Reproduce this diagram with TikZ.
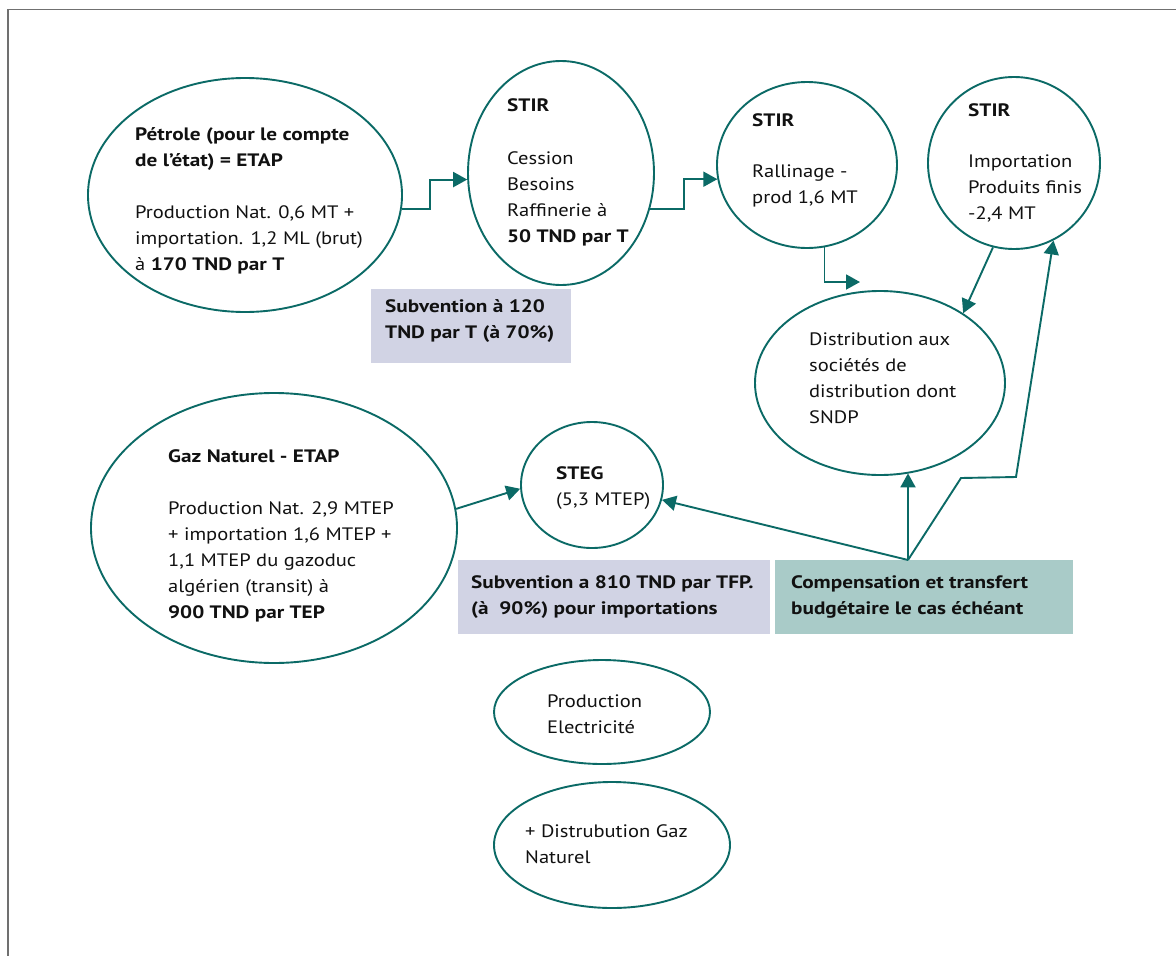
\documentclass[tikz,border=0pt]{standalone}
\usepackage{fontspec}
\setmainfont{PT Sans}[FakeStretch=1.14, BoldFeatures={FakeStretch=1.18}]
\usetikzlibrary{shapes.geometric,arrows.meta}
\definecolor{tealc}{HTML}{0B6A66}
\definecolor{lavc}{HTML}{D1D3E4}
\definecolor{cmpc}{HTML}{A9CBC8}
\definecolor{framec}{HTML}{707070}
\definecolor{txtc}{HTML}{111111}
\tikzset{
  ell/.style={ellipse, draw=tealc, line width=1.9pt, inner sep=0pt, fill=white},
  txt/.style={anchor=base west, align=left, inner sep=0pt, text=txtc, font=\fontsize{18}{26}\selectfont},
  boxa/.style={rectangle, fill=lavc, inner sep=0pt},
  boxc/.style={rectangle, fill=cmpc, inner sep=0pt},
  conn/.style={draw=tealc, line width=1.9pt, -{Triangle[length=14pt,width=15pt]}},
}
\begin{document}
\begin{tikzpicture}[x=1pt,y=-1pt]
\useasboundingbox (0,0) rectangle (1176,956);
\fill[white] (0,0) rectangle (1176,956);
\draw[framec, line width=1.6pt] (8,956) -- (8,9.5) -- (1176,9.5);

% ellipses
\node[ell, minimum width=314pt, minimum height=234pt] (pet) at (245,195) {};
\node[ell, minimum width=186pt, minimum height=224pt] (stir1) at (561,173) {};
\node[ell, minimum width=180pt, minimum height=166pt] (stir2) at (807,165) {};
\node[ell, minimum width=172pt, minimum height=172pt] (stir3) at (1014,163) {};
\node[ell, minimum width=250pt, minimum height=184pt] (dist) at (880,383) {};
\node[ell, minimum width=366pt, minimum height=270pt] (gaz) at (274,528) {};
\node[ell, minimum width=142pt, minimum height=126pt] (steg) at (592,485) {};
\node[ell, minimum width=216pt, minimum height=104pt] (prod) at (602,712) {};
\node[ell, minimum width=236pt, minimum height=126pt] (dgaz) at (612,845) {};

% boxes
\node[boxa, minimum width=200pt, minimum height=74pt] (suba) at (471,326) {};
\node[boxa, minimum width=312pt, minimum height=74pt] (subb) at (614,597) {};
\node[boxc, minimum width=298pt, minimum height=74pt] (cmp) at (924,597) {};

% texts (anchor = baseline of the last line)
\node[txt] (pett) at (135,270) {\textbf{Pétrole (pour le compte}\\\textbf{de l’état) = ETAP}\\[26pt]Production Nat. 0,6 MT +\\importation. 1,2 ML (brut)\\à \textbf{170 TND par T}};
\node[txt] (stir1t) at (507,242) {\textbf{STIR}\\[27pt]Cession\\Besoins\\Raffinerie à\\\textbf{50 TND par T}};
\node[txt] (stir2t) at (752,203) {\textbf{STIR}\\[25pt]Rallinage -\\prod 1,6 MT};
\node[txt] (stir3t) at (968,219) {\textbf{STIR}\\[25pt]Importation\\Produits finis\\-2,4 MT};
\node[txt] (distt) at (809,423) {Distribution aux\\sociétés de\\distribution dont\\SNDP};
\node[txt] (gazt) at (168,618) {\textbf{Gaz Naturel - ETAP}\\[26pt]Production Nat. 2,9 MTEP\\+ importation 1,6 MTEP +\\1,1 MTEP du gazoduc\\algérien (transit) à\\\textbf{900 TND par TEP}};
\node[txt] (stegt) at (556,505) {\textbf{STEG}\\(5,3 MTEP)};
\node[txt] (prodt) at (547,733) {Production\\Electricité};
\node[txt] (dgazt) at (525,863) {+ Distrubution Gaz\\Naturel};
\node[txt] (subat) at (385,338) {\textbf{Subvention à 120}\\\textbf{TND par T (à 70\%)}};
\node[txt] (subbt) at (471,614) {\textbf{Subvention a 810 TND par TFP.}\\\textbf{(à~ 90\%) pour importations}};
\node[txt] (cmpt) at (791,614) {\textbf{Compensation et transfert}\\\textbf{budgétaire le cas échéant}};

% connectors
\coordinate (hub) at (908,560);
\coordinate (a3tip) at (860,282);
\coordinate (b1) at (961,478);
\coordinate (b2) at (1016,477);
\draw[conn] (pet.-5) -- ++(28,0) |- (stir1.184);
\draw[conn] (stir1.-22) -- ++(34,0) |- (stir2.189);
\draw[conn] (stir2.-78) |- (a3tip);
\draw[conn] (stir3.-104) -- (dist.40);
\draw[conn] (hub) -- (hub |- dist.-72);
\draw[conn] (hub) -- (steg.-12);
\draw[conn] (hub) -- (b1) -- (b2) -- (stir3.-63);
\draw[conn] (gaz.6) -- (steg.183);
\end{tikzpicture}
\end{document}
